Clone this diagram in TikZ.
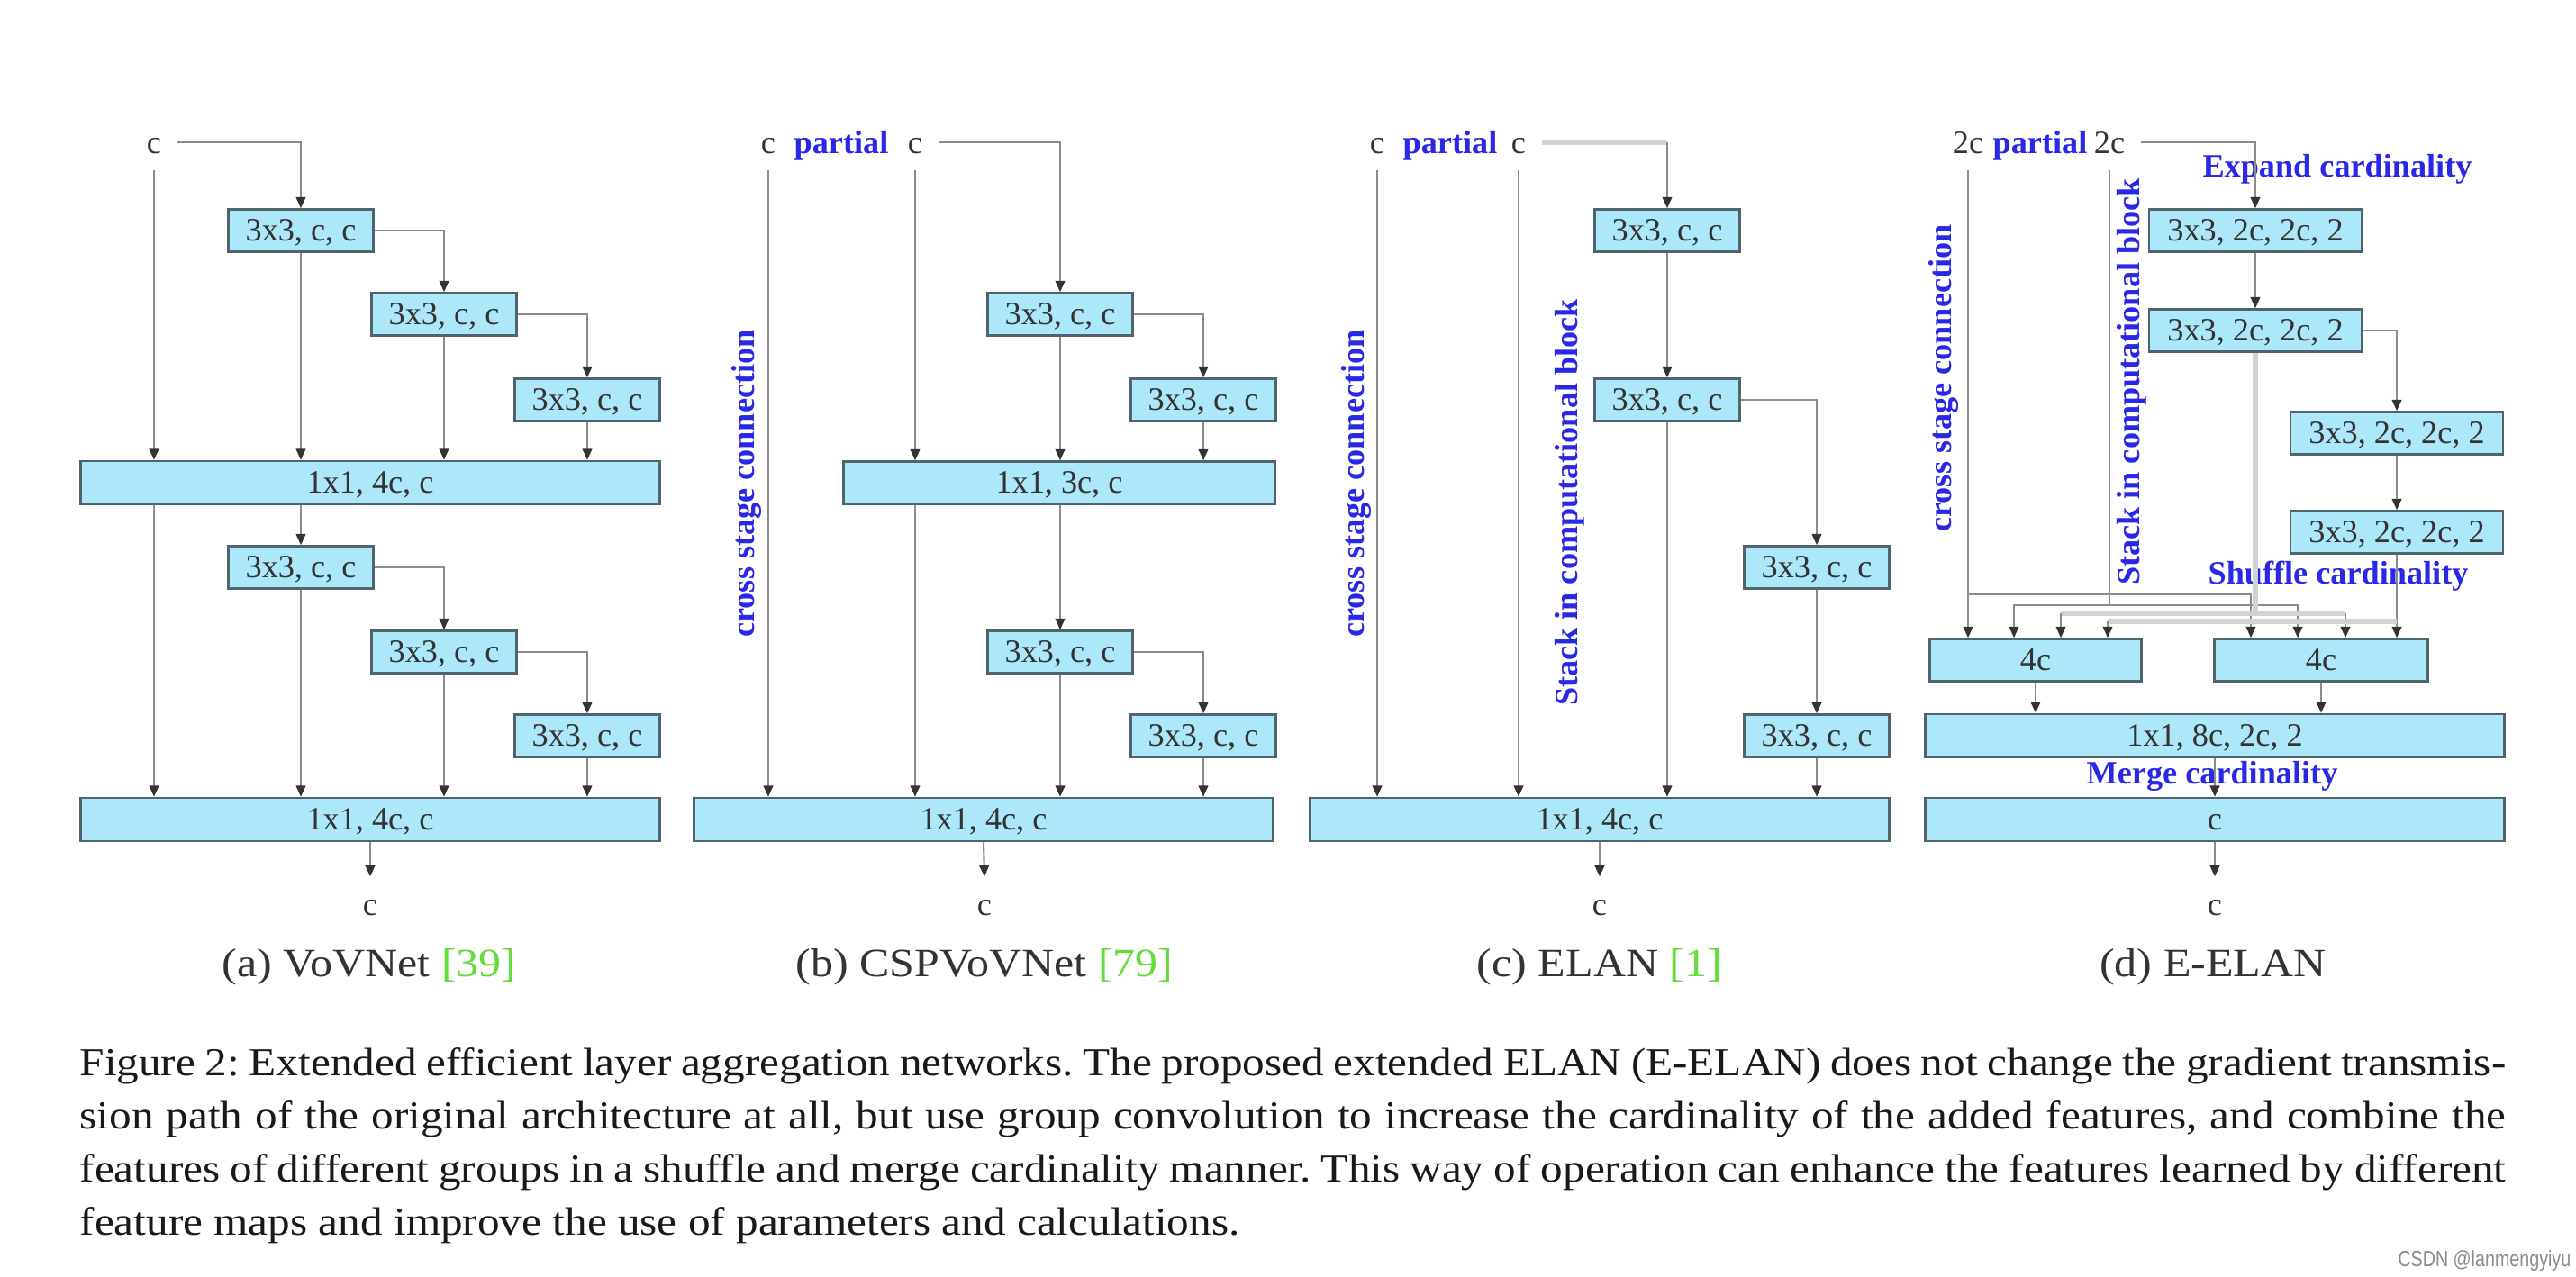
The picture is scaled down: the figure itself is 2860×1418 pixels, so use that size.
\documentclass[tikz,border=0pt]{standalone}
\usepackage{fontspec}
\setmainfont{Liberation Serif}
\newfontfamily\capfont{Liberation Serif}[FakeStretch=1.12]
\newfontfamily\markfont{Liberation Sans}[FakeStretch=0.8]
\usetikzlibrary{arrows.meta}
\definecolor{boxfill}{RGB}{172,232,249}
\definecolor{boxline}{RGB}{80,100,110}
\definecolor{wire}{RGB}{140,140,140}
\definecolor{wirepale}{RGB}{210,210,210}
\definecolor{notecol}{RGB}{40,40,230}
\definecolor{refgreen}{RGB}{100,220,60}
\begin{document}
\begin{tikzpicture}[x=0.01cm, y=-0.01cm,
    conv/.style={draw=boxline, fill=boxfill, line width=0.7pt, inner sep=0pt,
      minimum width=1.61cm, minimum height=0.47cm, text=black!80,
      font=\fontsize{10.3}{12}\selectfont, text height=7pt, text depth=0.5pt},
    wide/.style={conv, minimum width=6.43cm, minimum height=0.48cm},
    lbl/.style={inner sep=5pt, text height=7pt, text depth=0pt, text=black!80,
      font=\fontsize{10.3}{12}\selectfont},
    part/.style={lbl, text=notecol, font=\fontsize{10.3}{12}\selectfont\bfseries},
    note/.style={inner sep=0pt, text=notecol, font=\fontsize{10.3}{12}\selectfont\bfseries},
    link/.style={draw=wire, line width=0.6pt, -{Triangle[length=3.5pt,width=3pt,color=black!80]}},
    bus/.style={draw=wire, line width=0.6pt},
    pale/.style={draw=wirepale, line width=1.6pt},
    sub/.style={font=\capfont\fontsize{12.7}{15}\selectfont, text=black!80}]
  \fill[white] (0,0) rectangle (2860,1418);
  \useasboundingbox (0,0) rectangle (2860,1418);

  % (a) VoVNet
  \node[lbl] (a-in) at (171,158) {c};
  \node[conv] (a-b1) at (334,256) {3x3, c, c};
  \node[conv] (a-b2) at (493,349) {3x3, c, c};
  \node[conv] (a-b3) at (652,444) {3x3, c, c};
  \node[wide] (a-cat1) at (411,536) {1x1, 4c, c};
  \node[conv] (a-b4) at (334,630) {3x3, c, c};
  \node[conv] (a-b5) at (493,724) {3x3, c, c};
  \node[conv] (a-b6) at (652,817) {3x3, c, c};
  \node[wide] (a-cat2) at (411,910) {1x1, 4c, c};
  \node[lbl] (a-out) at (411,1004) {c};
  \node[sub] (a-cap) at (410,1074) {(a) VoVNet \textcolor{refgreen}{[39]}};
  \draw[link] (a-in.east) -| (a-b1.north);
  \draw[link] (a-b1.east) -| (a-b2.north);
  \draw[link] (a-b2.east) -| (a-b3.north);
  \draw[link] (a-b4.east) -| (a-b5.north);
  \draw[link] (a-b5.east) -| (a-b6.north);
  \foreach \n in {b1,b2,b3}
    \draw[link] (a-\n.south) -- (a-\n.south |- a-cat1.north);
  \foreach \n in {b4,b5,b6}
    \draw[link] (a-\n.south) -- (a-\n.south |- a-cat2.north);
  \draw[link] (a-in.south) -- (a-in.south |- a-cat1.north);
  \draw[link] (a-in.south |- a-cat1.south) -- (a-in.south |- a-cat2.north);
  \draw[link] (a-b4.north |- a-cat1.south) -- (a-b4.north);
  \draw[link] (a-cat2.south) -- (a-out.north);

  % (b) CSPVoVNet
  \node[lbl] (b-inl) at (853,158) {c};
  \node[part] (b-part) at (934,158) {partial};
  \node[lbl] (b-inr) at (1016,158) {c};
  \node[conv] (b-b1) at (1177,349) {3x3, c, c};
  \node[conv] (b-b2) at (1336,444) {3x3, c, c};
  \node[conv, minimum width=4.79cm] (b-cat1) at (1176,536) {1x1, 3c, c};
  \node[conv] (b-b3) at (1177,724) {3x3, c, c};
  \node[conv] (b-b4) at (1336,817) {3x3, c, c};
  \node[wide] (b-cat2) at (1092,910) {1x1, 4c, c};
  \node[lbl] (b-out) at (1093,1004) {c};
  \node[note, rotate=90] (b-csp) at (829,537) {cross stage connection};
  \node[sub] (b-cap) at (1093,1074) {(b) CSPVoVNet \textcolor{refgreen}{[79]}};
  \draw[link] (b-inr.east) -| (b-b1.north);
  \draw[link] (b-b1.east) -| (b-b2.north);
  \draw[link] (b-b3.east) -| (b-b4.north);
  \draw[link] (b-inr.south) -- (b-inr.south |- b-cat1.north);
  \foreach \n in {b1,b2}
    \draw[link] (b-\n.south) -- (b-\n.south |- b-cat1.north);
  \foreach \n in {b3,b4}
    \draw[link] (b-\n.south) -- (b-\n.south |- b-cat2.north);
  \draw[link] (b-inl.south) -- (b-inl.south |- b-cat2.north);
  \draw[link] (b-inr.south |- b-cat1.south) -- (b-inr.south |- b-cat2.north);
  \draw[link] (b-b3.north |- b-cat1.south) -- (b-b3.north);
  \draw[link] (b-cat2.south) -- (b-out.north);

  % (c) ELAN
  \node[lbl] (c-inl) at (1529,158) {c};
  \node[part] (c-part) at (1610,158) {partial};
  \node[lbl] (c-inr) at (1686,158) {c};
  \node[conv] (c-b1) at (1851,256) {3x3, c, c};
  \node[conv] (c-b2) at (1851,444) {3x3, c, c};
  \node[conv] (c-b3) at (2017,630) {3x3, c, c};
  \node[conv] (c-b4) at (2017,817) {3x3, c, c};
  \node[wide] (c-cat) at (1776,910) {1x1, 4c, c};
  \node[lbl] (c-out) at (1776,1004) {c};
  \node[note, rotate=90] (c-csp) at (1506,537) {cross stage connection};
  \node[note, rotate=90] (c-stack) at (1743,558) {Stack in computational block};
  \node[sub] (c-cap) at (1776,1074) {(c) ELAN \textcolor{refgreen}{[1]}};
  \draw[pale] (c-inr.east) -- (c-inr.east -| c-b1.north);
  \draw[link] (c-inr.east -| c-b1.north) -- (c-b1.north);
  \draw[link] (c-b1.south) -- (c-b2.north);
  \draw[link] (c-b2.east) -| (c-b3.north);
  \draw[link] (c-b3.south) -- (c-b4.north);
  \foreach \n in {inl,inr,b2,b4}
    \draw[link] (c-\n.south) -- (c-\n.south |- c-cat.north);
  \draw[link] (c-cat.south) -- (c-out.north);

  % (d) E-ELAN
  \node[lbl] (d-inl) at (2185,158) {2c};
  \node[part] (d-part) at (2265,158) {partial};
  \node[lbl] (d-inr) at (2342,158) {2c};
  \node[conv, minimum width=2.36cm] (d-b1) at (2504,256) {3x3, 2c, 2c, 2};
  \node[conv, minimum width=2.36cm] (d-b2) at (2504,367) {3x3, 2c, 2c, 2};
  \node[conv, minimum width=2.36cm] (d-b3) at (2661,481) {3x3, 2c, 2c, 2};
  \node[conv, minimum width=2.36cm] (d-b4) at (2661,591) {3x3, 2c, 2c, 2};
  \node[conv, minimum width=2.35cm] (d-g1) at (2260,733) {4c};
  \node[conv, minimum width=2.37cm] (d-g2) at (2577,733) {4c};
  \node[wide] (d-mix) at (2459,817) {1x1, 8c, 2c, 2};
  \node[wide] (d-red) at (2459,910) {c};
  \node[lbl] (d-out) at (2459,1004) {c};
  \node[note] (d-expand) at (2595,188) {Expand cardinality};
  \node[note] (d-shuffle) at (2596,640) {Shuffle cardinality};
  \node[note] (d-merge) at (2456,862) {Merge cardinality};
  \node[note, rotate=90] (d-csp) at (2158,420) {cross stage connection};
  \node[note, rotate=90] (d-stack) at (2367,424) {Stack in computational block};
  \node[sub] (d-cap) at (2457,1074) {(d) E-ELAN};
  \draw[link] (d-inr.east) -| (d-b1.north);
  \draw[link] (d-b1.south) -- (d-b2.north);
  \draw[link] (d-b2.east) -| (d-b3.north);
  \draw[link] (d-b3.south) -- (d-b4.north);
  \draw[link] (d-inl.south) -- (d-inl.south |- d-g1.north);
  \draw[link] (d-inl.south |- 0,660) -| (2499,0 |- d-g2.north);
  \draw[bus] (d-inr.south) -- (d-inr.south |- 0,672);
  \draw[link] (d-inr.south |- 0,672) -| (2236,0 |- d-g1.north);
  \draw[link] (d-inr.south |- 0,672) -| (2551,0 |- d-g2.north);
  \draw[pale] (d-b2.south) -- (d-b2.south |- 0,681);
  \draw[pale] (2288,681) -- (2604,681);
  \draw[link] (2288,681) -- (2288,0 |- d-g1.north);
  \draw[link] (2604,681) -- (2604,0 |- d-g2.north);
  \draw[link] (d-b4.south) -- (d-b4.south |- d-g2.north);
  \draw[pale] (d-b4.south |- 0,690) -- (2340,690);
  \draw[link] (2340,690) -- (2340,0 |- d-g1.north);
  \draw[link] (d-g1.south) -- (d-g1.south |- d-mix.north);
  \draw[link] (d-g2.south) -- (d-g2.south |- d-mix.north);
  \draw[link] (d-mix.south) -- (d-red.north);
  \draw[link] (d-red.south) -- (d-out.north);

  \node[anchor=north west, inner sep=0pt, text width=26.92cm, align=left, text=black!90,
    font=\capfont\fontsize{12.5}{16.8}\selectfont] (fig-cap) at (88,1163)
    {\frenchspacing\spaceskip=0pt\xspaceskip=0pt
     \makebox[26.92cm][s]{Figure 2: Extended efficient layer aggregation networks. The proposed extended ELAN (E-ELAN) does not change the gradient transmis-}\\
     \makebox[26.92cm][s]{sion path of the original architecture at all, but use group convolution to increase the cardinality of the added features, and combine the}\\
     \makebox[26.92cm][s]{features of different groups in a shuffle and merge cardinality manner. This way of operation can enhance the features learned by different}\\
     feature maps and improve the use of parameters and calculations.};
  \node[anchor=east, inner sep=0pt, text=black!45, font=\markfont\fontsize{7}{8}\selectfont] (mark) at (2855,1400) {CSDN @lanmengyiyu};
\end{tikzpicture}
\end{document}
